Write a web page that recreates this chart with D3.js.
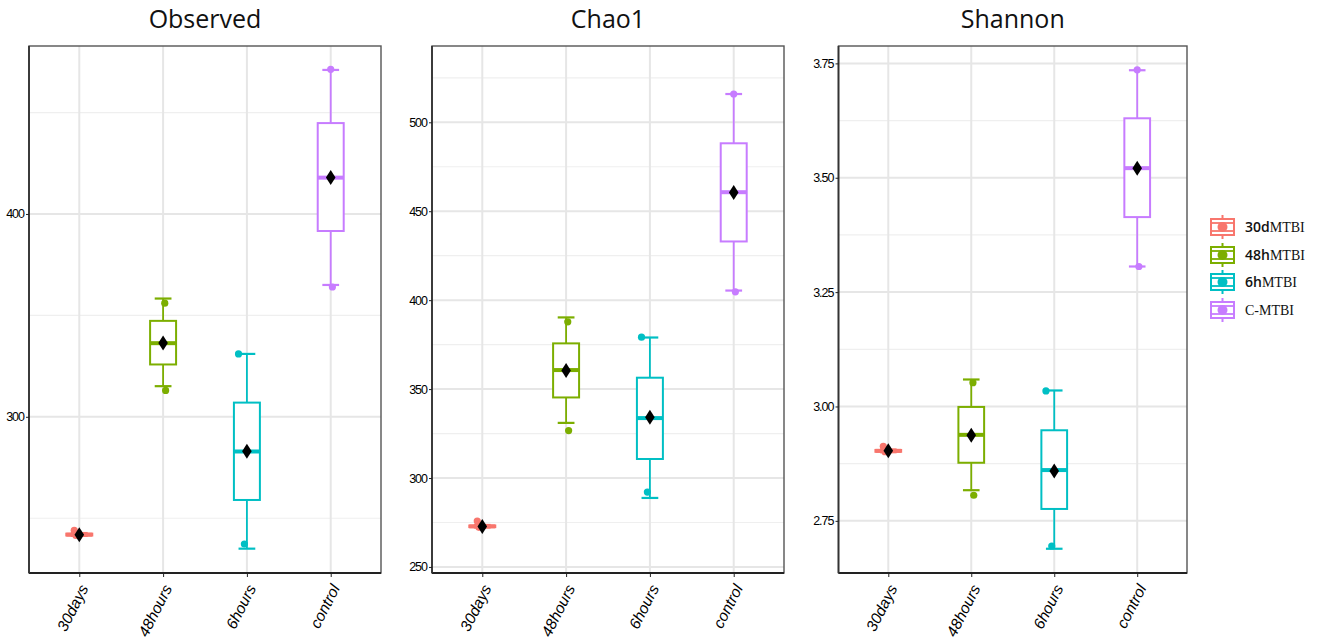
<!DOCTYPE html>
<html>
<head>
<meta charset="utf-8">
<script src="https://cdn.jsdelivr.net/npm/d3@7"></script>
<style>
  html, body { margin: 0; padding: 0; background: #ffffff; }
  svg { display: block; }
</style>
</head>
<body>
<svg id="chart" width="1320" height="638"></svg>
<script>
// ---------------- DATA ----------------
const categories  = ["30days", "48hours", "6hours", "control"];
const groupLabels = ["30dMTBI", "48hMTBI", "6hMTBI", "C-MTBI"];
const metricNames = ["Observed", "Chao1", "Shannon"];

// Observed
const observedTicks  = [300, 400];
const observedMin    = [241.3, 315.1, 235.0, 365.0];
const observedQ1     = [241.5, 325.8, 259.0, 391.6];
const observedMedian = [241.9, 336.3, 282.9, 417.9];
const observedQ3     = [242.4, 347.3, 307.0, 444.8];
const observedMax    = [242.7, 358.3, 331.0, 471.0];
const observedMean   = [241.9, 336.4, 283.0, 418.0];
const observedLowPt  = [241.5, 313.0, 237.3, 364.0];
const observedHighPt = [244.0, 356.0, 331.0, 471.3];

// Chao1
const chao1Ticks  = [250, 300, 350, 400, 450, 500];
const chao1Min    = [272.2, 331.0, 288.8, 405.4];
const chao1Q1     = [272.4, 345.3, 310.7, 433.0];
const chao1Median = [272.8, 360.7, 333.7, 460.7];
const chao1Q3     = [273.3, 375.7, 356.4, 488.2];
const chao1Max    = [273.6, 390.3, 379.0, 515.9];
const chao1Mean   = [272.8, 360.5, 334.2, 460.5];
const chao1LowPt  = [272.3, 326.7, 292.1, 404.7];
const chao1HighPt = [275.8, 387.8, 379.2, 515.9];

// Shannon
const shannonTicks  = [2.75, 3.00, 3.25, 3.50, 3.75];
const shannonMin    = [2.900, 2.817, 2.689, 3.306];
const shannonQ1     = [2.901, 2.877, 2.776, 3.414];
const shannonMedian = [2.903, 2.938, 2.861, 3.521];
const shannonQ3     = [2.905, 2.999, 2.948, 3.630];
const shannonMax    = [2.906, 3.059, 3.035, 3.735];
const shannonMean   = [2.903, 2.937, 2.859, 3.521];
const shannonLowPt  = [2.901, 2.806, 2.695, 3.306];
const shannonHighPt = [2.913, 3.052, 3.034, 3.736];

// ---------------- LAYOUT / STYLE ----------------
const colors = ["#F8766D", "#7CAE00", "#00BFC4", "#C77CFF"];
const panels = [
  { title: metricNames[0], left: 29,  right: 381,  domain: [223.0, 482.8], ticks: observedTicks, fmt: d3.format("d"),
    min: observedMin, q1: observedQ1, med: observedMedian, q3: observedQ3, max: observedMax, mean: observedMean, lo: observedLowPt, hi: observedHighPt },
  { title: metricNames[1], left: 432, right: 784,  domain: [246.6, 542.9], ticks: chao1Ticks, fmt: d3.format("d"),
    min: chao1Min, q1: chao1Q1, med: chao1Median, q3: chao1Q3, max: chao1Max, mean: chao1Mean, lo: chao1LowPt, hi: chao1HighPt },
  { title: metricNames[2], left: 838.5, right: 1187, domain: [2.636, 3.788], ticks: shannonTicks, fmt: d3.format(".2f"),
    min: shannonMin, q1: shannonQ1, med: shannonMedian, q3: shannonQ3, max: shannonMax, mean: shannonMean, lo: shannonLowPt, hi: shannonHighPt }
];
const plotTop = 46, plotBottom = 573;
const jitterHi = [-0.06, 0.02, -0.1, 0.0];
const jitterLo = [-0.04, 0.03, -0.03, 0.02];

const svg = d3.select("#chart");

panels.forEach(p => {
  const g = svg.append("g");
  const x = d3.scalePoint().domain(categories).range([p.left, p.right]).padding(0.6);
  const y = d3.scaleLinear().domain(p.domain).range([plotBottom, plotTop]);
  const step = x.step();
  const boxW = step * 0.31;
  const capW = step * 0.2;

  // title
  g.append("text")
    .attr("x", (p.left + p.right) / 2).attr("y", 28)
    .attr("text-anchor", "middle")
    .attr("font-family", "'Open Sans', sans-serif")
    .attr("font-size", 25)
    .attr("fill", "#111")
    .text(p.title);

  // minor grid
  const majStep = p.ticks.length > 1 ? p.ticks[1] - p.ticks[0] : 1;
  const minors = [];
  for (let v = p.ticks[0] - majStep / 2; v <= p.domain[1]; v += majStep) {
    if (v >= p.domain[0]) minors.push(v);
  }
  g.selectAll(".minor").data(minors).enter().append("line")
    .attr("x1", p.left).attr("x2", p.right)
    .attr("y1", d => y(d)).attr("y2", d => y(d))
    .attr("stroke", "#efefef").attr("stroke-width", 1.2);
  // major grid
  g.selectAll(".major").data(p.ticks).enter().append("line")
    .attr("x1", p.left).attr("x2", p.right)
    .attr("y1", d => y(d)).attr("y2", d => y(d))
    .attr("stroke", "#e6e6e6").attr("stroke-width", 2);
  g.selectAll(".vgrid").data(categories).enter().append("line")
    .attr("x1", d => x(d)).attr("x2", d => x(d))
    .attr("y1", plotTop).attr("y2", plotBottom)
    .attr("stroke", "#e6e6e6").attr("stroke-width", 2);

  // panel border
  g.append("rect")
    .attr("x", p.left).attr("y", plotTop)
    .attr("width", p.right - p.left).attr("height", plotBottom - plotTop)
    .attr("fill", "none").attr("stroke", "#555").attr("stroke-width", 1.4);

  // boxes
  categories.forEach((c, i) => {
    const cx = x(c);
    const col = colors[i];
    // whiskers
    g.append("line").attr("x1", cx).attr("x2", cx)
      .attr("y1", y(p.q3[i])).attr("y2", y(p.max[i]))
      .attr("stroke", col).attr("stroke-width", 1.8);
    g.append("line").attr("x1", cx).attr("x2", cx)
      .attr("y1", y(p.q1[i])).attr("y2", y(p.min[i]))
      .attr("stroke", col).attr("stroke-width", 1.8);
    // caps
    [p.max[i], p.min[i]].forEach(v => {
      g.append("line").attr("x1", cx - capW / 2).attr("x2", cx + capW / 2)
        .attr("y1", y(v)).attr("y2", y(v))
        .attr("stroke", col).attr("stroke-width", 2.2);
    });
    // box
    g.append("rect")
      .attr("x", cx - boxW / 2).attr("width", boxW)
      .attr("y", y(p.q3[i])).attr("height", Math.max(0.5, y(p.q1[i]) - y(p.q3[i])))
      .attr("fill", "#fff").attr("stroke", col).attr("stroke-width", 2);
    // median
    g.append("line").attr("x1", cx - boxW / 2).attr("x2", cx + boxW / 2)
      .attr("y1", y(p.med[i])).attr("y2", y(p.med[i]))
      .attr("stroke", col).attr("stroke-width", 4);
    // extreme points
    g.append("circle").attr("cx", cx + jitterHi[i] * step).attr("cy", y(p.hi[i]))
      .attr("r", 3.6).attr("fill", col);
    g.append("circle").attr("cx", cx + jitterLo[i] * step).attr("cy", y(p.lo[i]))
      .attr("r", 3.6).attr("fill", col);
    // mean diamond
    const my = y(p.mean[i]);
    g.append("path")
      .attr("d", `M${cx},${my - 7.5}L${cx + 4.8},${my}L${cx},${my + 7.5}L${cx - 4.8},${my}Z`)
      .attr("fill", "#000");
  });

  // axis lines (bottom/left darker)
  g.append("line").attr("x1", p.left).attr("x2", p.right).attr("y1", plotBottom).attr("y2", plotBottom)
    .attr("stroke", "#222").attr("stroke-width", 2.2);
  g.append("line").attr("x1", p.left).attr("x2", p.left).attr("y1", plotTop).attr("y2", plotBottom)
    .attr("stroke", "#333").attr("stroke-width", 1.8);

  // y axis
  const yAxis = d3.axisLeft(y).tickValues(p.ticks).tickFormat(p.fmt).tickSize(3).tickPadding(2);
  const ya = g.append("g").attr("transform", `translate(${p.left},0)`).call(yAxis);
  ya.select(".domain").remove();
  ya.selectAll(".tick line").attr("stroke", "#222");
  ya.selectAll(".tick text")
    .attr("font-family", "'Liberation Sans', Arial, sans-serif")
    .attr("font-size", 12.5).attr("letter-spacing", -1).attr("fill", "#000");

  // x axis
  const xAxis = d3.axisBottom(x).tickSize(4).tickPadding(2);
  const xa = g.append("g").attr("transform", `translate(0,${plotBottom})`).call(xAxis);
  xa.select(".domain").remove();
  xa.selectAll(".tick line").attr("stroke", "#222");
  xa.selectAll(".tick text")
    .attr("font-family", "'Liberation Sans', Arial, sans-serif")
    .style("font-style", "italic")
    .attr("font-size", 15.5).attr("fill", "#000")
    .attr("text-anchor", "end")
    .attr("dy", null).attr("y", null)
    .attr("transform", "translate(9,15) rotate(-63)");
});

// ---------------- LEGEND ----------------
const legendY = [227, 255, 282, 310];
const lg = svg.append("g");
groupLabels.forEach((lab, i) => {
  const cy = legendY[i];
  const x0 = 1211, x1 = 1234, cx = (x0 + x1) / 2;
  const col = colors[i];
  lg.append("line").attr("x1", cx).attr("x2", cx).attr("y1", cy - 12).attr("y2", cy + 12)
    .attr("stroke", col).attr("stroke-width", 2);
  lg.append("rect").attr("x", x0).attr("y", cy - 8).attr("width", x1 - x0).attr("height", 16)
    .attr("fill", "#fff").attr("stroke", col).attr("stroke-width", 2);
  [cy - 4, cy + 4].forEach(yy => {
    lg.append("line").attr("x1", x0).attr("x2", x1).attr("y1", yy).attr("y2", yy)
      .attr("stroke", col).attr("stroke-width", 1.8);
  });
  lg.append("circle").attr("cx", cx).attr("cy", cy).attr("r", 5).attr("fill", col);

  const m = lab.match(/^(\d+[dh])(MTBI)$/);
  const t = lg.append("text").attr("x", 1245).attr("y", cy + 5)
    .attr("font-size", 14).attr("fill", "#111");
  if (m) {
    t.append("tspan").attr("font-family", "'Open Sans', 'Liberation Sans', sans-serif")
      .attr("font-weight", 600).text(m[1]);
    t.append("tspan").attr("font-family", "'Liberation Serif', serif").text(m[2]);
  } else {
    t.append("tspan").attr("font-family", "'Liberation Serif', serif").text(lab);
  }
});
</script>
</body>
</html>
